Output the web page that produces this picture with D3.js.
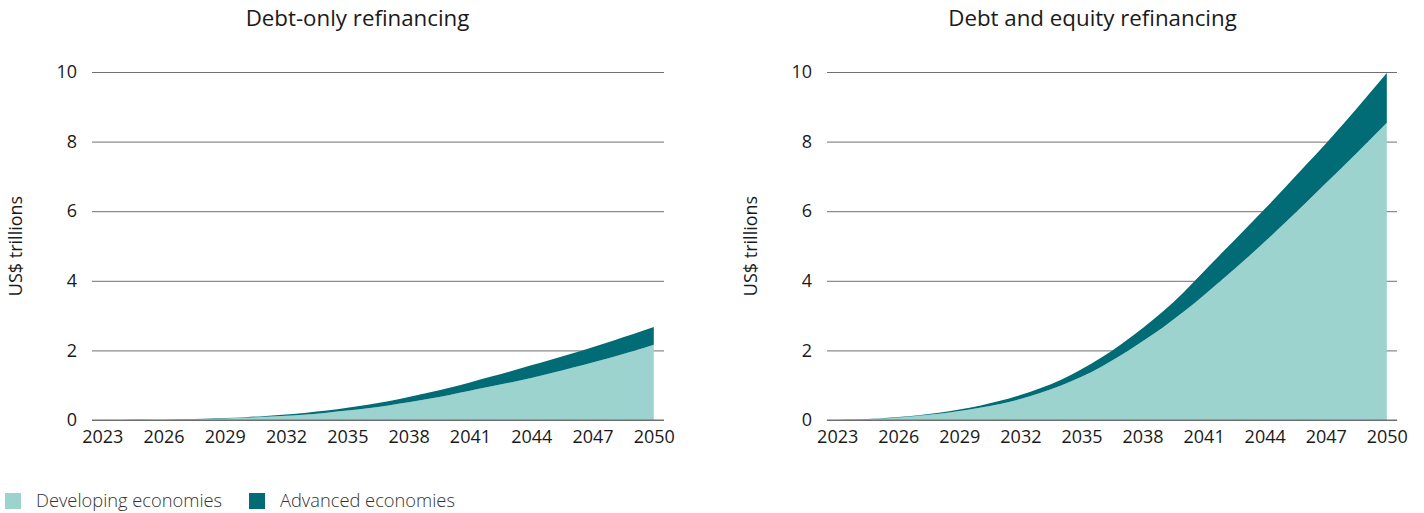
<!DOCTYPE html>
<html>
<head>
<meta charset="utf-8">
<script src="https://cdn.jsdelivr.net/npm/d3@7"></script>
<style>
  html, body { margin: 0; padding: 0; background: #fff; }
  svg { display: block; }
  text { font-family: "Open Sans", "Noto Sans", sans-serif; }
</style>
</head>
<body>
<svg id="chart" width="1424" height="513"></svg>
<script>
// ---- Data (US$ trillions) ----
const years = [2023,2024,2025,2026,2027,2028,2029,2030,2031,2032,2033,2034,2035,2036,
               2037,2038,2039,2040,2041,2042,2043,2044,2045,2046,2047,2048,2049,2050];
const tickYears = [2023,2026,2029,2032,2035,2038,2041,2044,2047,2050];
const yTicks = [0,2,4,6,8,10];
const seriesNames = ["Developing economies", "Advanced economies"];
const seriesColors = ["#9dd3ce", "#016c75"];

// Debt-only refinancing
const debtOnlyDeveloping = [0,0.001,0.003,0.008,0.016,0.028,0.044,0.064,0.09,0.12,0.16,0.21,0.27,0.34,
                            0.42,0.51,0.61,0.72,0.84,0.96,1.08,1.21,1.35,1.50,1.65,1.81,1.98,2.16];
const debtOnlyAdvanced   = [0,0,0.001,0.002,0.004,0.007,0.011,0.016,0.025,0.04,0.05,0.06,0.08,0.10,
                            0.12,0.15,0.18,0.21,0.24,0.28,0.32,0.36,0.39,0.41,0.44,0.47,0.49,0.51];
// Debt and equity refinancing
const debtEquityDeveloping = [0,0.01,0.035,0.07,0.12,0.18,0.26,0.35,0.46,0.60,0.78,0.99,1.24,1.54,
                              1.88,2.26,2.66,3.10,3.58,4.08,4.59,5.12,5.67,6.23,6.80,7.37,7.95,8.54];
const debtEquityAdvanced   = [0,0.005,0.01,0.015,0.02,0.03,0.04,0.06,0.09,0.12,0.14,0.17,0.22,0.26,
                              0.32,0.38,0.46,0.56,0.68,0.78,0.87,0.94,1.01,1.08,1.14,1.23,1.33,1.43];

const panels = [
  { title: "Debt-only refinancing", dev: debtOnlyDeveloping, adv: debtOnlyAdvanced,
    x0: 92, x1: 664, titleX: 357.5, axisTitleX: 16 },
  { title: "Debt and equity refinancing", dev: debtEquityDeveloping, adv: debtEquityAdvanced,
    x0: 827, x1: 1397, titleX: 1092.5, axisTitleX: 751 }
];

const svg = d3.select("#chart");
const yTop = 72, yBottom = 420;
const y = d3.scaleLinear().domain([0, 10]).range([yBottom, yTop]);

panels.forEach(p => {
  const g = svg.append("g");
  const x = d3.scaleLinear().domain([2022.5, 2050.5]).range([p.x0, p.x1]);

  // Title
  g.append("text").attr("x", p.titleX).attr("y", 26)
    .attr("text-anchor", "middle").attr("font-size", 22.3).attr("fill", "#1a1a1a")
    .text(p.title);

  // Axis title
  g.append("text")
    .attr("transform", `translate(${p.axisTitleX},${246}) rotate(-90)`)
    .attr("text-anchor", "middle").attr("dy", "0.35em")
    .attr("font-size", 18).attr("fill", "#1a1a1a")
    .text("US$ trillions");

  // Gridlines (y axis)
  const yAxis = d3.axisLeft(y).tickValues(yTicks).tickSize(-(p.x1 - p.x0)).tickPadding(15)
    .tickFormat(d3.format("d"));
  const ya = g.append("g").attr("transform", `translate(${p.x0},0)`).call(yAxis);
  ya.select(".domain").remove();
  ya.selectAll(".tick line").attr("stroke", "#6f6f6f").attr("stroke-width", 1);
  ya.selectAll(".tick text").attr("font-size", 18).attr("fill", "#1a1a1a")
    .attr("font-family", "'Open Sans', sans-serif");

  // Stacked areas
  const rows = years.map((yr, i) => ({ year: yr, dev: p.dev[i], adv: p.adv[i] }));
  const stack = d3.stack().keys(["dev", "adv"]);
  const layers = stack(rows);
  const area = d3.area()
    .x(d => x(d.data.year))
    .y0(d => y(d[0]))
    .y1(d => y(d[1]))
    .curve(d3.curveMonotoneX);
  g.append("g").selectAll("path").data(layers).join("path")
    .attr("d", area)
    .attr("fill", (d, i) => seriesColors[i]);

  // Baseline on top
  g.append("line").attr("x1", p.x0).attr("x2", p.x1)
    .attr("y1", y(0)).attr("y2", y(0))
    .attr("stroke", "#6f6f6f").attr("stroke-width", 1);

  // X axis labels
  const xAxis = d3.axisBottom(x).tickValues(tickYears).tickSize(0).tickPadding(10)
    .tickFormat(d3.format("d"));
  const xa = g.append("g").attr("transform", `translate(0,${yBottom})`).call(xAxis);
  xa.select(".domain").remove();
  xa.selectAll(".tick text").attr("font-size", 18).attr("fill", "#1a1a1a")
    .attr("font-family", "'Open Sans', sans-serif");
});

// Legend
const legend = svg.append("g");
const legendX = [5, 249];
seriesNames.forEach((name, i) => {
  legend.append("rect").attr("x", legendX[i]).attr("y", 493).attr("width", 16).attr("height", 16)
    .attr("fill", seriesColors[i]);
  legend.append("text").attr("x", legendX[i] + 31).attr("y", 507)
    .attr("font-size", 18.3).attr("font-weight", 300).attr("fill", "#333")
    .text(name);
});
</script>
</body>
</html>
